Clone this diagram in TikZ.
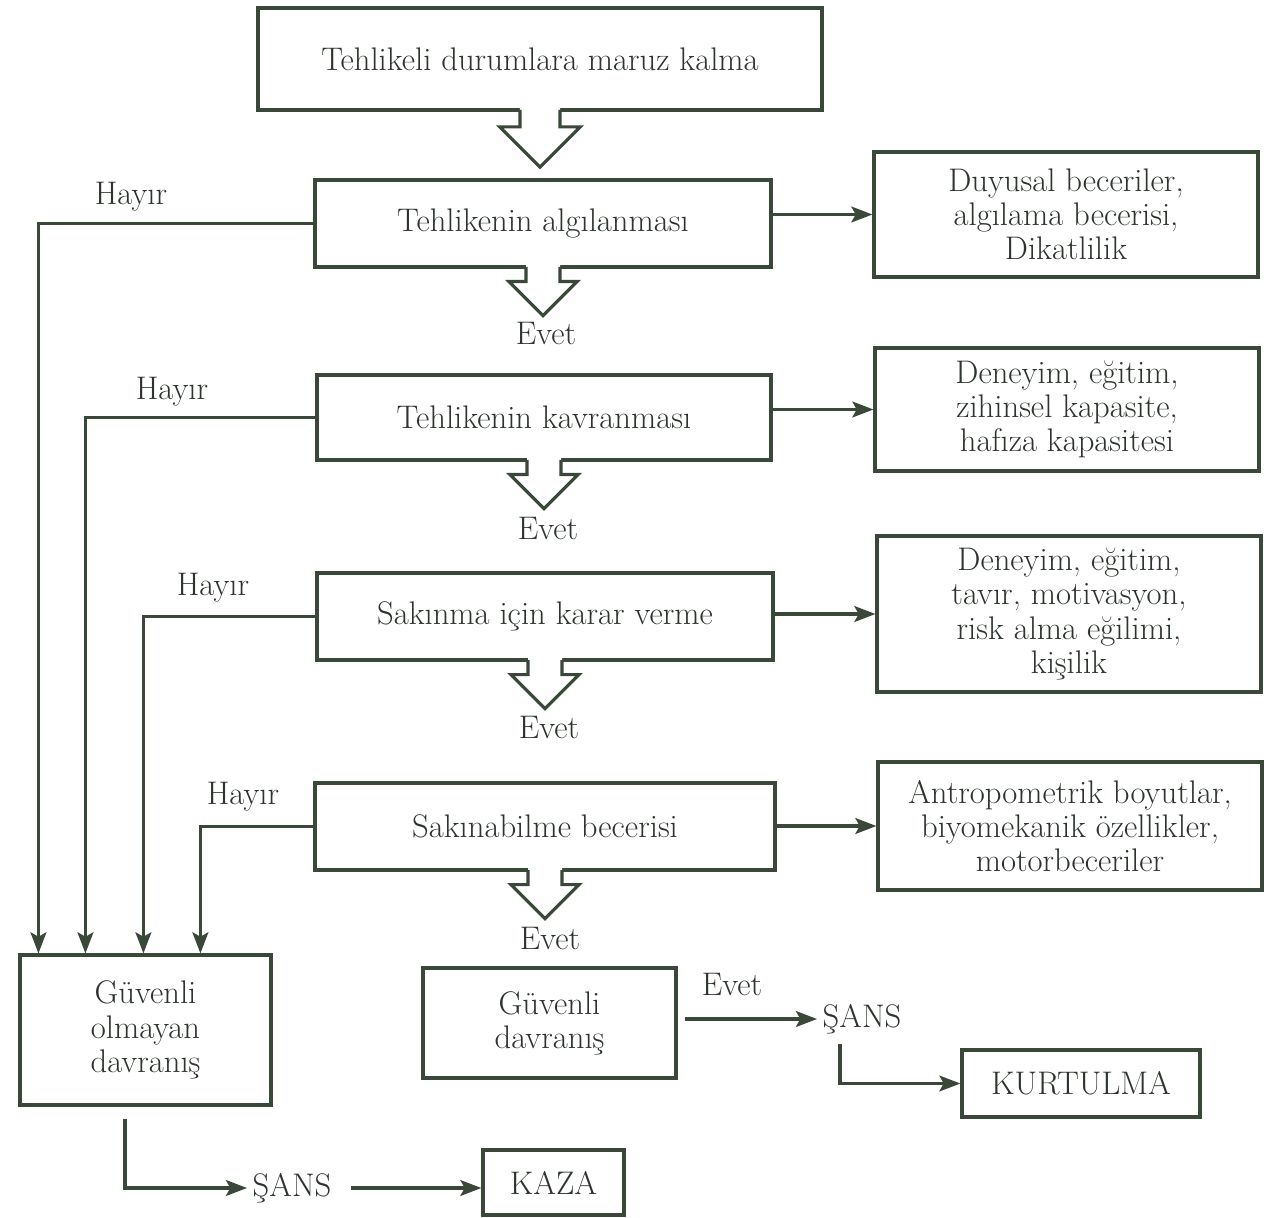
\documentclass[tikz,border=0pt]{standalone}
\usepackage{tikz}
\usetikzlibrary{arrows.meta}
\definecolor{ink}{RGB}{58,72,58}
\definecolor{inktext}{RGB}{45,52,45}
\tikzset{
  box/.style={draw=ink, line width=1.8pt, text=inktext, align=center, inner sep=0pt},
  lbl/.style={text=inktext, inner sep=3pt},
  arr/.style={draw=ink, line width=1.8pt, -{Stealth[length=12pt,width=9pt,inset=2.5pt]}},
  line/.style={draw=ink, line width=1.8pt},
}
% wide open arrow hanging under a box
\newcommand{\hollowarrow}[2][1]{%
  \path[fill=white] (#2.south) ++(-17*#1,-5) -- ++(0,15*#1+5) -- ++(-17*#1,0) -- ++(34*#1,34*#1) -- ++(34*#1,-34*#1) -- ++(-17*#1,0) -- ++(0,-15*#1-5) -- cycle;
  \draw[line, line join=miter, line cap=rect] (#2.south) ++(-17*#1,0) -- ++(0,13*#1) -- ++(-17*#1,0) -- ++(34*#1,34*#1) -- ++(34*#1,-34*#1) -- ++(-17*#1,0) -- ++(0,-13*#1);
}

\begin{document}
\begin{tikzpicture}[x=0.02cm, y=-0.02cm, font=\fontsize{18.6}{19.5}\selectfont]
    \useasboundingbox (0,0) rectangle (1276,1218);

    \node[box, minimum width=11.28cm, minimum height=2.04cm] (1) at (540,59) {Tehlikeli durumlara maruz kalma};
    \node[box, minimum width=9.12cm, minimum height=1.74cm] (2) at (543,223.5) {Tehlikenin algılanması};
    \node[box, minimum width=9.08cm, minimum height=1.7cm] (3) at (544,417.5) {Tehlikenin kavranması};
    \node[box, minimum width=9.12cm, minimum height=1.74cm] (4) at (545,616.5) {Sakınma için karar verme};
    \node[box, minimum width=9.2cm, minimum height=1.74cm] (5) at (545,826.5) {Sakınabilme becerisi};

    \node[box, minimum width=7.68cm, minimum height=2.5cm] (6) at (1066,214.5) {Duyusal beceriler,\\algılama becerisi,\\Dikatlilik};
    \node[box, minimum width=7.68cm, minimum height=2.46cm] (7) at (1067,409.5) {Deneyim, eğitim,\\zihinsel kapasite,\\hafıza kapasitesi};
    \node[box, minimum width=7.68cm, minimum height=3.12cm] (8) at (1069,614) {Deneyim, eğitim,\\tavır, motivasyon,\\risk alma eğilimi,\\kişilik};
    \node[box, minimum width=7.68cm, minimum height=2.56cm] (9) at (1070,826) {Antropometrik boyutlar,\\biyomekanik özellikler,\\motorbeceriler};

    \node[box, minimum width=5.02cm, minimum height=3cm] (10) at (145.5,1030) {Güvenli\\olmayan\\davranış};
    \node[box, minimum width=5.06cm, minimum height=2.2cm] (11) at (549.5,1023) {Güvenli\\davranış};
    \node[lbl] (12) at (292,1188) {ŞANS};
    \node[box, minimum width=2.82cm, minimum height=1.3cm] (13) at (553.5,1182.5) {KAZA};
    \node[lbl] (14) at (862,1019) {ŞANS};
    \node[box, minimum width=4.76cm, minimum height=1.34cm] (15) at (1081,1083.5) {KURTULMA};

    \node[lbl] (h1) at (131,197) {Hayır};
    \node[lbl] (h2) at (172,392) {Hayır};
    \node[lbl] (h3) at (213,588) {Hayır};
    \node[lbl] (h4) at (243,797) {Hayır};
    \node[lbl] (e1) at (546,333) {Evet};
    \node[lbl] (e2) at (548,528) {Evet};
    \node[lbl] (e3) at (549,727) {Evet};
    \node[lbl] (e4) at (550,938) {Evet};
    \node[lbl] (e5) at (732,984) {Evet};

    \coordinate (10a) at ([xshift=0.4cm]10.north west);
    \coordinate (10b) at ([xshift=1.34cm]10.north west);
    \coordinate (10c) at ([xshift=2.5cm]10.north west);
    \coordinate (10d) at ([xshift=3.64cm]10.north west);
    \coordinate (10s) at ([xshift=-0.41cm,yshift=-0.24cm]10.south);
    \coordinate (14s) at ([xshift=-0.44cm,yshift=-0.1cm]14.south);

    \hollowarrow[1.18]{1}
    \hollowarrow{2}
    \hollowarrow{3}
    \hollowarrow{4}
    \hollowarrow{5}

    \path
    (2.east |- 6) edge[arr] (6)
    (3.east |- 7) edge[arr] (7)
    (4.east |- 8) edge[arr] (8)
    (5.east |- 9) edge[arr] (9)
    (2.west) edge[arr, to path={-| (\tikztotarget)}] (10a)
    (3.west) edge[arr, to path={-| (\tikztotarget)}] (10b)
    (4.west) edge[arr, to path={-| (\tikztotarget)}] (10c)
    (5.west) edge[arr, to path={-| (\tikztotarget)}] (10d)
    (10s) edge[arr, to path={|- (\tikztotarget)}] (12)
    (12) edge[arr, shorten <=8pt] (12 -| 13.west)
    (11.east |- 14) edge[arr, shorten <=4pt] (14)
    (14s) edge[arr, to path={|- (\tikztotarget)}] (15);
\end{tikzpicture}
\end{document}
